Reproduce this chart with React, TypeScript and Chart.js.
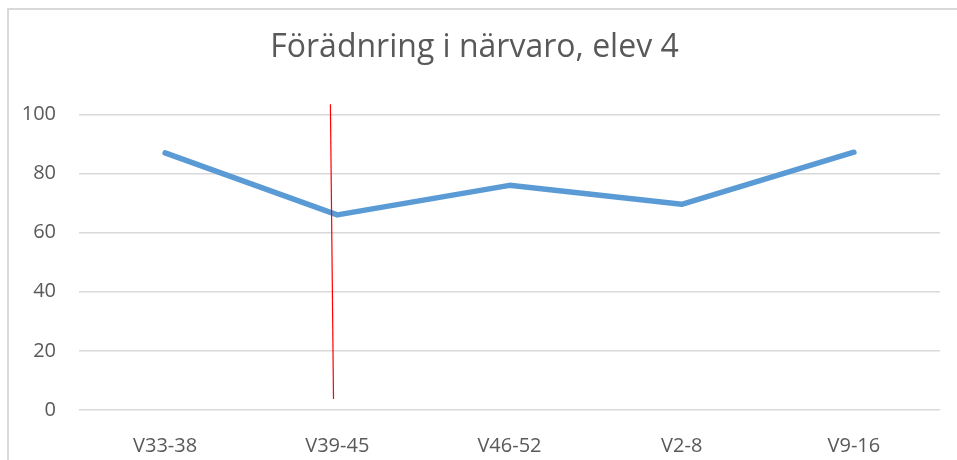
import React, { useEffect, useRef } from "react";
import { Chart, registerables } from "chart.js";

Chart.register(...registerables);

const titleText = "Förädnring i närvaro, elev 4";
const categories = ["V33-38", "V39-45", "V46-52", "V2-8", "V9-16"];
const attendance = [87, 66, 76, 69.6, 87.2];
const yTicks = [0, 20, 40, 60, 80, 100];
// red marker line: [category position, value] at top and bottom
const markerX = [0.96, 0.978];
const markerY = [103.4, 3.7];

const markerPlugin = {
  id: "marker",
  afterDatasetsDraw(chart: any) {
    const { ctx, scales } = chart;
    const x = scales.x;
    const y = scales.y;
    ctx.save();
    ctx.strokeStyle = "#ff0000";
    ctx.lineWidth = 1.2;
    ctx.beginPath();
    ctx.moveTo(x.getPixelForValue(markerX[0]), y.getPixelForValue(markerY[0]));
    ctx.lineTo(x.getPixelForValue(markerX[1]), y.getPixelForValue(markerY[1]));
    ctx.stroke();
    ctx.restore();
  },
};

export default function App() {
  const ref = useRef<HTMLCanvasElement>(null);
  useEffect(() => {
    if (!ref.current) return;
    const chart = new Chart(ref.current, {
      type: "line",
      data: {
        labels: categories,
        datasets: [
          {
            data: attendance,
            borderColor: "#5b9bd5",
            borderWidth: 5.5,
            pointRadius: 0,
            borderCapStyle: "round",
            borderJoinStyle: "round",
            tension: 0,
            fill: false,
          },
        ],
      },
      options: {
        animation: false,
        responsive: false,
        layout: { padding: { left: 0, right: 17, top: 0, bottom: 0 } },
        plugins: {
          legend: { display: false },
          tooltip: { enabled: false },
          title: {
            display: true,
            text: titleText,
            color: "#595959",
            font: { family: "'Open Sans'", size: 32, weight: "normal" },
            padding: { top: 19, bottom: 47 },
          },
        },
        scales: {
          x: {
            offset: true,
            grid: { display: false, drawTicks: false },
            border: { display: false },
            ticks: {
              color: "#595959",
              font: { family: "'Open Sans'", size: 20 },
              padding: 24,
            },
            afterFit: (s: any) => {
              s.height = 50;
            },
          },
          y: {
            min: 0,
            max: 100,
            afterBuildTicks: (s: any) => {
              s.ticks = yTicks.map((v) => ({ value: v }));
            },
            grid: { color: "#d9d9d9", lineWidth: 1.5, drawTicks: false },
            border: { display: false },
            ticks: {
              color: "#595959",
              font: { family: "'Open Sans'", size: 20 },
              padding: 23,
            },
            afterFit: (s: any) => {
              s.width = 70;
            },
          },
        },
      },
      plugins: [markerPlugin],
    });
    return () => chart.destroy();
  }, []);
  return (
    <div
      style={{
        position: "absolute",
        left: 7,
        top: 8,
        borderLeft: "2px solid #d9d9d9",
        borderTop: "2px solid #d9d9d9",
        width: 948,
        height: 450,
        overflow: "hidden",
        background: "#fff",
      }}
    >
      <canvas ref={ref} width={948} height={450} style={{ display: "block" }} />
    </div>
  );
}
